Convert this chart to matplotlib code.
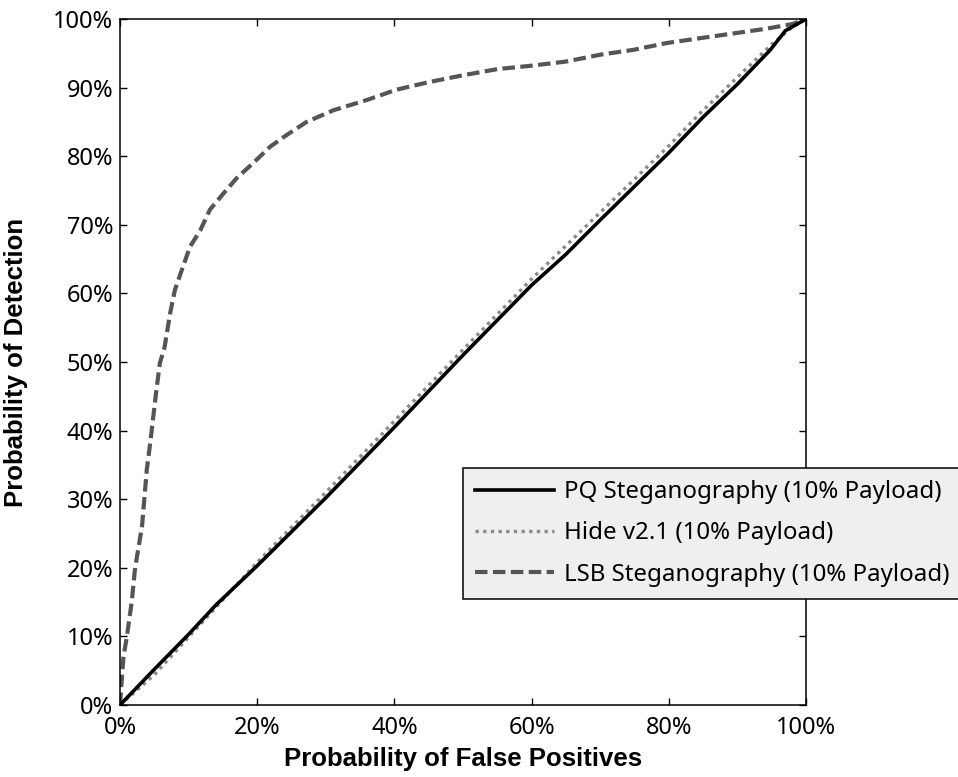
import matplotlib.pyplot as plt
from matplotlib.ticker import PercentFormatter

# ROC curves (fractions)
pq_fp = [0, 0.05, 0.10, 0.14, 0.20, 0.30, 0.40, 0.50, 0.60, 0.65, 0.70, 0.80, 0.85, 0.90, 0.948, 0.97, 1.0]
pq_det = [0, 0.052, 0.103, 0.146, 0.203, 0.302, 0.405, 0.510, 0.612, 0.657, 0.707, 0.805, 0.857, 0.905, 0.955, 0.983, 1.0]

hide_fp = [0, 0.05, 0.10, 0.20, 0.30, 0.40, 0.50, 0.60, 0.70, 0.80, 0.845, 0.90, 0.95, 0.98, 1.0]
hide_det = [0, 0.044, 0.099, 0.208, 0.310, 0.414, 0.518, 0.621, 0.718, 0.815, 0.862, 0.915, 0.963, 0.988, 1.0]

lsb_fp = [0, 0.002, 0.005, 0.010, 0.017, 0.022, 0.032, 0.039, 0.044, 0.053, 0.058, 0.065,
          0.073, 0.080, 0.090, 0.102, 0.117, 0.131, 0.151, 0.170, 0.194, 0.219, 0.243,
          0.272, 0.311, 0.360, 0.403, 0.45, 0.50, 0.55, 0.60, 0.65, 0.70, 0.748, 0.797,
          0.845, 0.894, 0.943, 0.981, 1.0]
lsb_det = [0, 0.03, 0.07, 0.10, 0.15, 0.20, 0.26, 0.343, 0.382, 0.459, 0.498, 0.522,
           0.571, 0.605, 0.634, 0.668, 0.692, 0.722, 0.746, 0.768, 0.790, 0.814, 0.831,
           0.850, 0.867, 0.882, 0.897, 0.908, 0.918, 0.927, 0.932, 0.938, 0.948, 0.955, 0.965,
           0.972, 0.979, 0.986, 0.993, 1.0]

labels = ['PQ Steganography (10% Payload)', 'Hide v2.1 (10% Payload)', 'LSB Steganography (10% Payload)']

tick_font = 'Noto Sans'
label_font = 'Liberation Sans'

fig = plt.figure(figsize=(9.58, 7.77), dpi=100)
ax = fig.add_axes([0.1253, 0.0927, 0.716, 0.8828])

ax.plot(pq_fp, pq_det, color='black', lw=2.6, label=labels[0], zorder=3)
ax.plot(hide_fp, hide_det, color='#8a8a8a', lw=2.4, linestyle=(0, (1, 1.3)), label=labels[1], zorder=2)
ax.plot(lsb_fp, lsb_det, color='#555555', lw=3.0, linestyle=(0, (3, 1.3)), label=labels[2], zorder=2)

ax.set_xlim(0, 1)
ax.set_ylim(0, 1)
ax.set_xticks([0, 0.2, 0.4, 0.6, 0.8, 1.0])
ax.set_yticks([i / 10 for i in range(11)])
ax.xaxis.set_major_formatter(PercentFormatter(1.0, decimals=0))
ax.yaxis.set_major_formatter(PercentFormatter(1.0, decimals=0))

ax.tick_params(direction='in', length=5, width=1, top=True, right=True)
ax.tick_params(axis='x', pad=8)
ax.tick_params(axis='y', pad=5)
for lab in ax.get_xticklabels() + ax.get_yticklabels():
    lab.set_fontfamily(tick_font)
    lab.set_fontsize(17)
for sp in ax.spines.values():
    sp.set_linewidth(1.1)

ax.set_xlabel('Probability of False Positives', fontsize=18.5, fontweight='bold',
              family=label_font, labelpad=5)
ax.set_ylabel('Probability of Detection', fontsize=18.5, fontweight='bold',
              family=label_font, labelpad=18)

leg = ax.legend(loc='upper left', bbox_to_anchor=(463 / 958, 1 - 468 / 777),
                bbox_transform=fig.transFigure, prop={'family': tick_font, 'size': 17.3},
                facecolor='#efefef', edgecolor='black', framealpha=1, fancybox=False,
                handlelength=3.3, handletextpad=0.4, borderpad=0.5, labelspacing=0.72,
                borderaxespad=0)
leg.get_frame().set_linewidth(1.1)

fig.savefig('out.png', dpi=100)
